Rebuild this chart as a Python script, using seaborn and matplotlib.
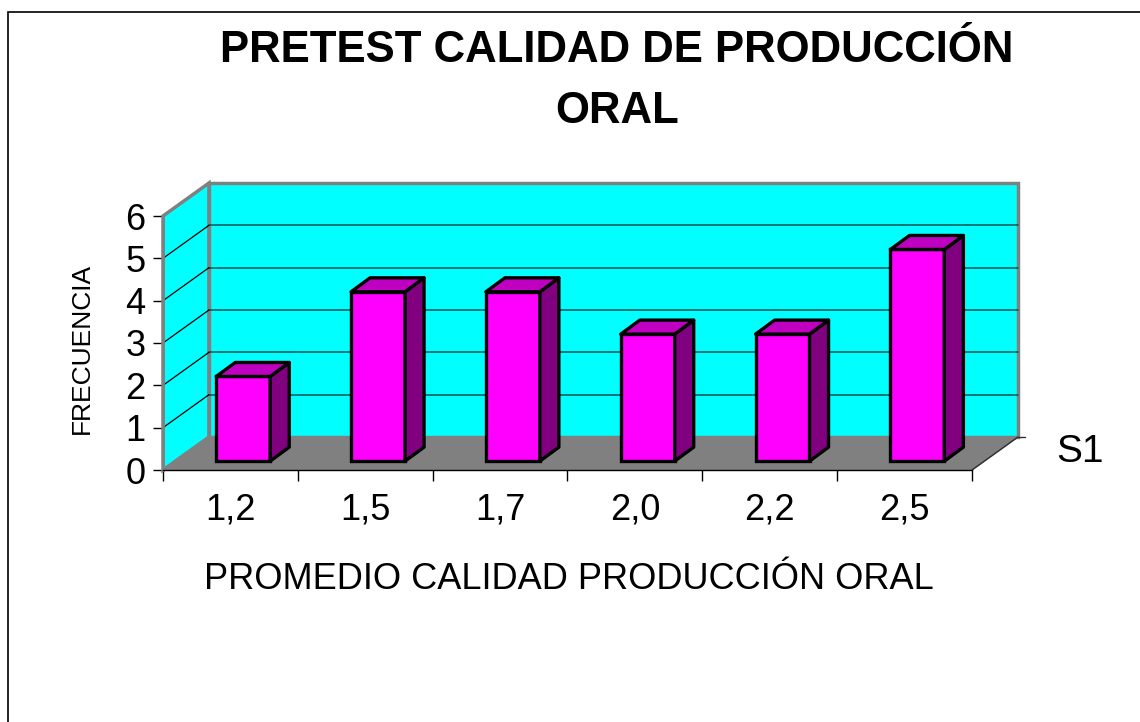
import matplotlib
matplotlib.use("Agg")
import matplotlib.pyplot as plt
import matplotlib.transforms as mtransforms
from matplotlib.patches import Polygon, Rectangle
import numpy as np
import pandas as pd
import seaborn as sns

# datos
categorias = ["1,2", "1,5", "1,7", "2,0", "2,2", "2,5"]
frecuencia = [2, 4, 4, 3, 3, 5]
y_ticks = [0, 1, 2, 3, 4, 5, 6]

titulo = "PRETEST CALIDAD DE PRODUCCIÓN\nORAL"
x_label = "PROMEDIO CALIDAD PRODUCCIÓN ORAL"
y_label = "FRECUENCIA"
serie = "S1"

# efecto 3D estilo Excel (en unidades de datos)
DEPTH_X, DEPTH_Y = 0.341, 0.78
BAR_OFF_X, BAR_OFF_Y = 0.095, 0.21
BAR_DX, BAR_DY = 0.141, 0.33

sns.set_style("white")
plt.rcParams["font.family"] = ["Liberation Sans", "DejaVu Sans"]
plt.rcParams["text.color"] = "black"
plt.rcParams["axes.labelcolor"] = "black"
plt.rcParams["xtick.color"] = "black"
plt.rcParams["ytick.color"] = "black"

fig = plt.figure(figsize=(11.4, 7.22), dpi=100)
ax = fig.add_axes([163 / 1140, 252 / 722, 809 / 1140, 254 / 722])

df = pd.DataFrame({"promedio": categorias, "frecuencia": frecuencia})
sns.barplot(
    data=df, x="promedio", y="frecuencia", color="#FF00FF", width=0.4,
    edgecolor="black", linewidth=2.4, saturation=1, ax=ax, zorder=3,
)
bars = list(ax.patches)

n = len(categorias)
x0, x1 = -0.5, n - 0.5
top = y_ticks[-1]
ax.set_xlim(x0, x1)
ax.set_ylim(0, top)

cyan = "#00FFFF"
gray = "#808080"

# piso, pared lateral y pared de fondo
floor = Polygon([(x0, 0), (x1, 0), (x1 + DEPTH_X, DEPTH_Y), (x0 + DEPTH_X, DEPTH_Y)],
                fc=gray, ec=gray, lw=1, clip_on=False, zorder=0.5)
side = Polygon([(x0, 0), (x0, top), (x0 + DEPTH_X, top + DEPTH_Y), (x0 + DEPTH_X, DEPTH_Y)],
               fc=cyan, ec=gray, lw=2.5, clip_on=False, zorder=0.6)
back = Polygon([(x0 + DEPTH_X, DEPTH_Y), (x0 + DEPTH_X, top + DEPTH_Y),
                (x1 + DEPTH_X, top + DEPTH_Y), (x1 + DEPTH_X, DEPTH_Y)],
               fc=cyan, ec=gray, lw=2.5, clip_on=False, zorder=0.6)
for poly in (floor, side, back):
    ax.add_patch(poly)
ax.add_patch(Polygon([(x0, 0), (x1, 0), (x1 + DEPTH_X, DEPTH_Y), (x0 + DEPTH_X, DEPTH_Y)],
                     fc=gray, ec="none", clip_on=False, zorder=0.7))

# lineas de division
for t in y_ticks[1:-1]:
    ax.plot([x0 + DEPTH_X, x1 + DEPTH_X], [t + DEPTH_Y, t + DEPTH_Y],
            color="#005f5f", lw=1.2, clip_on=False, zorder=0.8)
    ax.plot([x0, x0 + DEPTH_X], [t, t + DEPTH_Y], color="black", lw=0.9,
            clip_on=False, zorder=0.8)

# borde derecho del piso y marca de profundidad
ax.plot([x1, x1 + DEPTH_X], [0, DEPTH_Y], color="#303030", lw=1, clip_on=False, zorder=0.9)
ax.plot([x1 + DEPTH_X, x1 + DEPTH_X + 0.055], [DEPTH_Y, DEPTH_Y], color="#303030",
        lw=1, clip_on=False, zorder=0.9)

# barras con caras laterales y superiores
offset = mtransforms.Affine2D().translate(BAR_OFF_X, BAR_OFF_Y) + ax.transData
for p in bars:
    p.set_transform(offset)
    p.set_clip_on(False)
    bx, bw, bh = p.get_x(), p.get_width(), p.get_height()
    by = p.get_y()
    side_face = Polygon([(bx + bw, by), (bx + bw + BAR_DX, by + BAR_DY),
                         (bx + bw + BAR_DX, by + bh + BAR_DY), (bx + bw, by + bh)],
                        fc="#800080", ec="black", lw=2.4, joinstyle="round",
                        transform=offset, clip_on=False, zorder=3)
    top_face = Polygon([(bx, by + bh), (bx + BAR_DX, by + bh + BAR_DY),
                        (bx + bw + BAR_DX, by + bh + BAR_DY), (bx + bw, by + bh)],
                       fc="#C000C0", ec="black", lw=2.4, joinstyle="round",
                       transform=offset, clip_on=False, zorder=3)
    ax.add_patch(side_face)
    ax.add_patch(top_face)

ax.patch.set_visible(False)
ax.spines["top"].set_visible(False)
ax.spines["right"].set_visible(False)
ax.spines["left"].set_color(gray)
ax.spines["left"].set_linewidth(2)
ax.spines["bottom"].set_color("black")
ax.spines["bottom"].set_linewidth(1)
ax.spines["left"].set_zorder(1)
ax.spines["bottom"].set_zorder(1)

ax.set_yticks(y_ticks)
ax.tick_params(axis="y", left=True, length=7.5, width=1, direction="out",
               labelsize=26, pad=5, color="black", labelcolor="black")
ax.set_xticks(range(n))
ax.set_xticklabels(categorias)
ax.tick_params(axis="x", which="major", bottom=False, length=0, labelsize=26, pad=16,
               labelcolor="black")
ax.set_xticks(np.arange(x0, x1 + 0.01), minor=True)
ax.tick_params(axis="x", which="minor", bottom=True, length=8, width=1, color="black")

ax.set_xlabel(x_label, fontsize=26, va="center", color="black")
ax.xaxis.set_label_coords(0.502, -0.433)
ax.set_ylabel(y_label, fontsize=19, va="center", color="black")
ax.yaxis.set_label_coords(-0.1, 0.48)

fig.text(617 / 1140, 1 - 81 / 722, titulo, ha="center", va="center",
         fontsize=31.5, fontweight="bold", linespacing=1.6, color="black")
fig.text(1080 / 1140, 1 - 452 / 722, serie, ha="center", va="center", fontsize=28,
         color="black")

# marco del area del grafico
fig.add_artist(Rectangle((8 / 1140, -0.05), 1.0, 1 - 12 / 722 + 0.05,
                         transform=fig.transFigure, fill=False, ec="black", lw=1.2))

fig.savefig("out.png", dpi=100)
